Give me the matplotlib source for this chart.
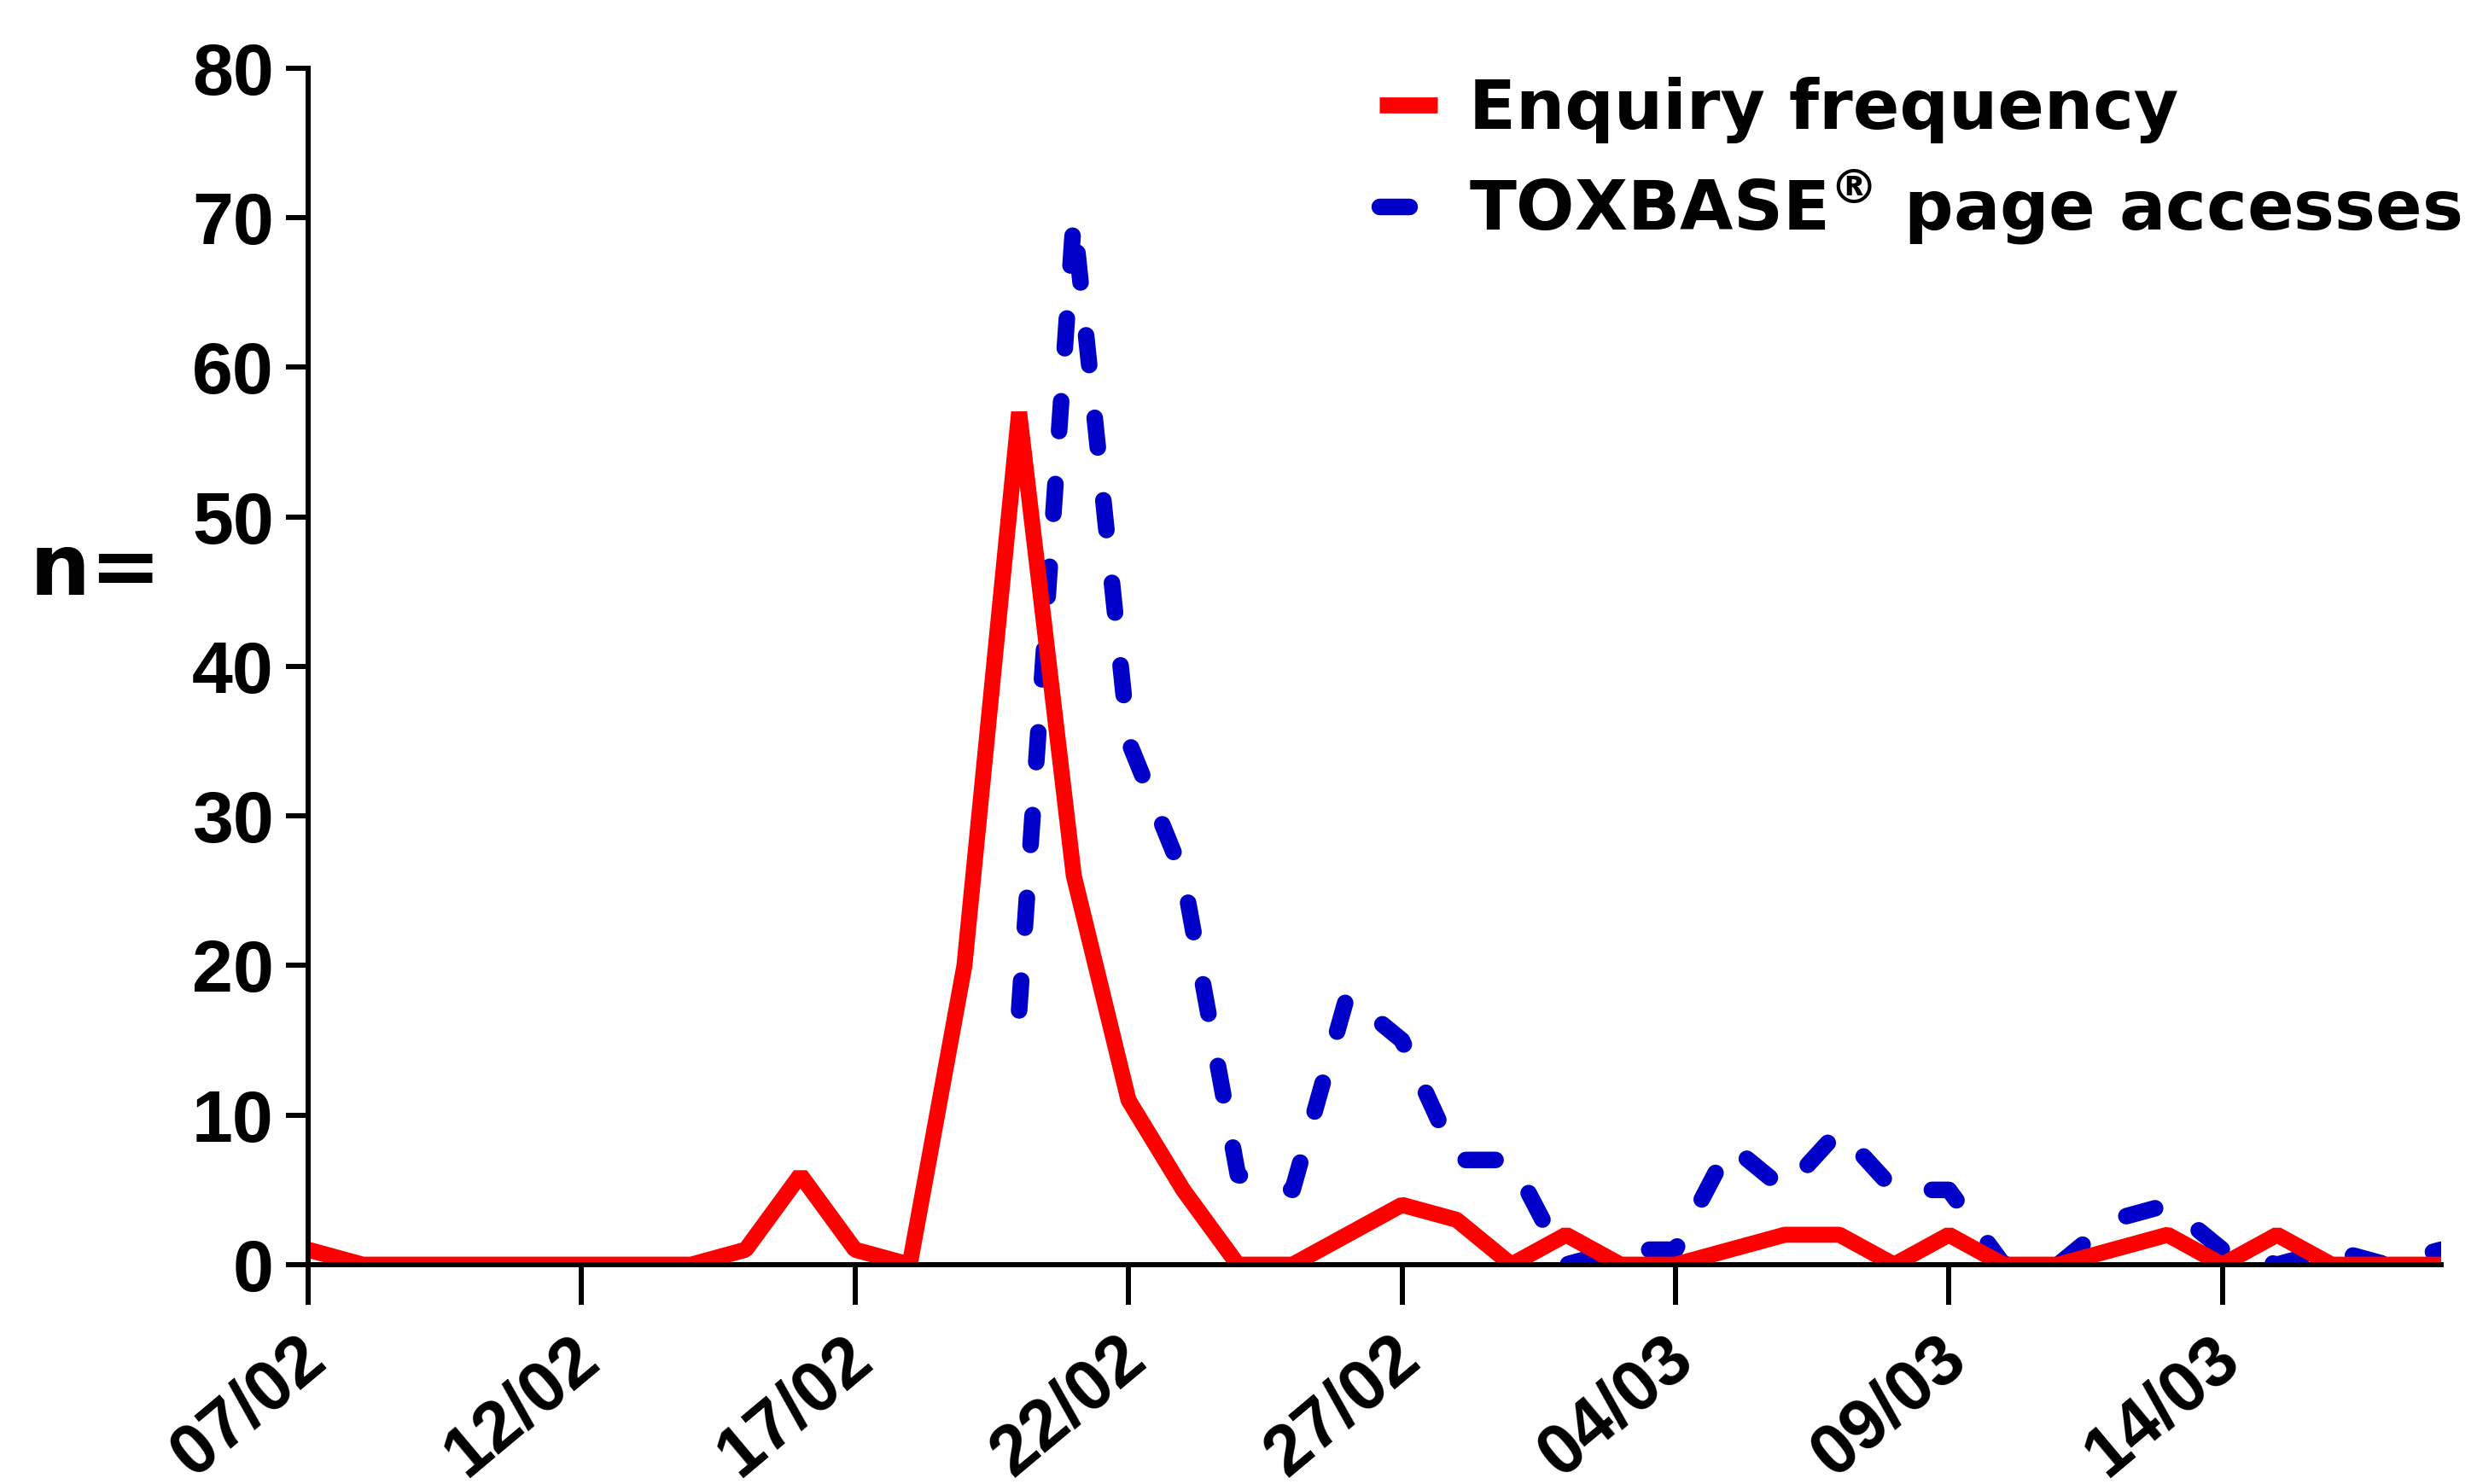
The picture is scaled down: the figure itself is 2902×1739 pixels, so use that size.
import numpy as np
import pandas as pd
import matplotlib
matplotlib.use('Agg')
import matplotlib.pyplot as plt
import matplotlib.transforms as mtransforms

# Daily series, 07/02 .. 18/03
dates = pd.date_range('2015-02-07', '2015-03-18', freq='D')
enquiries = [1, 0, 0, 0, 0, 0, 0, 0, 1, 6,
             1, 0, 20, 57, 26, 11, 5, 0, 0, 2,
             4, 3, 0, 2, 0, 0, 1, 2, 2, 0,
             2, 0, 0, 1, 2, 0, 2, 0, 0, 0]
page_accesses = [np.nan] * 13 + [17, 70, 35, 26, 6, 5, 18, 15, 7, 7,
                                 0, 1, 1, 8, 5, 9, 5, 5, 0, 0,
                                 3, 4, 1, 0, 1, 0, 1]
tick_dates = ['2015-02-07', '2015-02-12', '2015-02-17', '2015-02-22',
              '2015-02-27', '2015-03-04', '2015-03-09', '2015-03-14']
tick_labels = ['07/02', '12/02', '17/02', '22/02', '27/02', '04/03', '09/03', '14/03']
y_ticks = [0, 10, 20, 30, 40, 50, 60, 70, 80]
series_labels = ['Enquiry frequency', 'TOXBASE$^{®}$ page accesses']

plt.rcParams['mathtext.default'] = 'bf'

fig = plt.figure(figsize=(29.02, 17.39), dpi=100, facecolor='white')
ax = fig.add_axes([0.1244, 0.1478, 0.8611, 0.8062])

ax.plot(dates, enquiries, color='#FF0000', lw=13.5,
        solid_joinstyle='bevel', solid_capstyle='butt',
        label=series_labels[0], zorder=3)
ax.plot(dates, page_accesses, color='#0000C8', lw=14,
        linestyle=(0, (1.8, 3.2)), dash_capstyle='round',
        dash_joinstyle='round', label=series_labels[1], zorder=2)

ax.set_xlim(dates[0], dates[-1])
ax.set_ylim(0, 80)

for side in ['top', 'right']:
    ax.spines[side].set_visible(False)
for side in ['left', 'bottom']:
    ax.spines[side].set_linewidth(4.3)
    ax.spines[side].set_zorder(5)

ax.set_yticks(y_ticks)
ax.set_yticklabels([str(v) for v in y_ticks])
ax.set_xticks(pd.to_datetime(tick_dates))
ax.set_xticklabels(tick_labels)
ax.xaxis.set_minor_locator(matplotlib.ticker.NullLocator())

ax.tick_params(axis='y', length=19, width=4.3, pad=10)
ax.tick_params(axis='x', length=34, width=4.3, pad=37)

for lab in ax.get_yticklabels():
    lab.set_fontfamily('Liberation Sans')
    lab.set_fontweight('bold')
    lab.set_fontsize(62)

shift = mtransforms.ScaledTranslation(0.10, 0, fig.dpi_scale_trans)
for lab in ax.get_xticklabels():
    lab.set_fontfamily('Liberation Sans')
    lab.set_fontweight('bold')
    lab.set_fontsize(60)
    lab.set_rotation(40)
    lab.set_rotation_mode('anchor')
    lab.set_ha('right')
    lab.set_va('center')
    lab.set_transform(lab.get_transform() + shift)

# y label placed like the original, horizontally at mid-height
fig.text(0.012, 1 - 669 / 1739, 'n=', fontsize=72, fontweight='bold',
         family='DejaVu Sans', ha='left', va='center')

leg = ax.legend(loc='upper left', bbox_to_anchor=(1616 / 2902, 1 - 90 / 1739),
                bbox_transform=fig.transFigure, frameon=False,
                prop={'family': 'DejaVu Sans', 'weight': 'bold', 'size': 58},
                handlelength=0.84, handletextpad=0.46, labelspacing=0.36,
                borderpad=0, borderaxespad=0)

fig.savefig('out.png', dpi=100, facecolor='white')
